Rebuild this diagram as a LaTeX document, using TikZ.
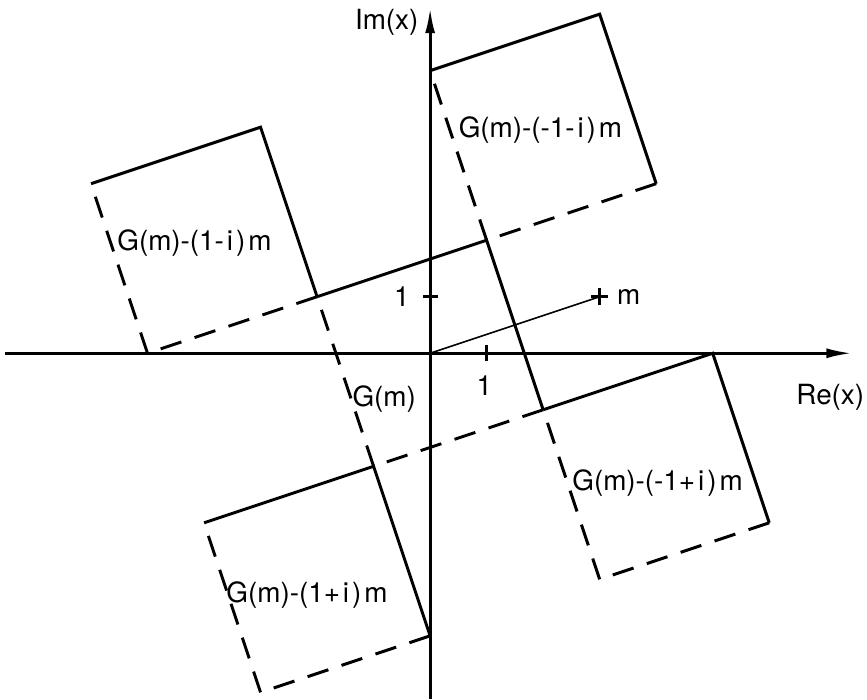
\documentclass[tikz,border=0pt]{standalone}
\usepackage{fontspec}
\setmainfont{TeX Gyre Heros}
\usetikzlibrary{arrows.meta,calc}

\newcommand{\gap}{\kern1.5pt}

\begin{document}
\begin{tikzpicture}[
    axis/.style={line width=1.5pt, -{Latex[length=13pt, width=5pt]}},
    edge/.style={line width=1.5pt},
    hidden/.style={line width=1.5pt, dash pattern=on 11pt off 7pt},
    vec/.style={line width=0.8pt},
    tick/.style={line width=1.3pt},
    lbl/.style={font=\fontsize{14}{16}\selectfont, inner sep=0pt}
]
    \useasboundingbox (-7.61,-6.12) rectangle (7.73,6.25);

    % Axes
    \coordinate (xstart) at (-7.52,0);
    \coordinate (xend) at (7.47,0);
    \coordinate (ystart) at (0,-6.12);
    \coordinate (yend) at (0,6.12);
    \draw[axis] (xstart) -- (xend);
    \draw[axis] (ystart) -- (yend);
    \node[lbl, anchor=east] (imlabel) at (-0.2,5.86) {Im(x)};
    \node[lbl] (relabel) at (7.08,-0.78) {Re(x)};

    % Unit ticks
    \draw[tick] (-0.12,1) -- (0.14,1);
    \draw[tick] (1,0.14) -- (1,-0.14);
    \node[lbl] (yone) at (-0.5,1) {1};
    \node[lbl] (xone) at (0.96,-0.58) {1};

    % The vector m
    \coordinate (origin) at (0,0);
    \coordinate (mtip) at (3,1);
    \draw[vec] (origin) -- (mtip);
    \draw[tick] ($(mtip)+(-0.15,0)$) -- ($(mtip)+(0.15,0)$);
    \draw[tick] ($(mtip)+(0,-0.15)$) -- ($(mtip)+(0,0.15)$);
    \node[lbl, anchor=west] (mlabel) at (3.3,1) {m};

    % Squares: top and right sides solid, the others dashed
    \foreach \sx/\sy in {0/0, -4/2, 2/4, 4/-2, -2/-4} {
        \begin{scope}[shift={(\sx,\sy)}]
            \coordinate (tl) at (-2,1);
            \coordinate (tr) at (1,2);
            \coordinate (br) at (2,-1);
            \coordinate (bl) at (-1,-2);
            \draw[edge] (tl) -- (tr) -- (br);
            \draw[hidden] (br) -- (bl) -- (tl);
        \end{scope}
    }

    % Labels of the squares
    \node[lbl, anchor=west] (g) at (-1.38,-0.81) {G(m)};
    \node[lbl, anchor=west] (gul) at (-5.54,1.95) {G(m)-(1-\gap i\gap)\gap m};
    \node[lbl, anchor=west] (gur) at (0.50,3.95) {G(m)-(-1-\gap i\gap)\gap m};
    \node[lbl, anchor=west] (glr) at (2.51,-2.30) {G(m)-(-1+\gap i\gap)\gap m};
    \node[lbl, anchor=west] (gll) at (-3.61,-4.27) {G(m)-(1+\gap i\gap)\gap m};

\end{tikzpicture}
\end{document}
